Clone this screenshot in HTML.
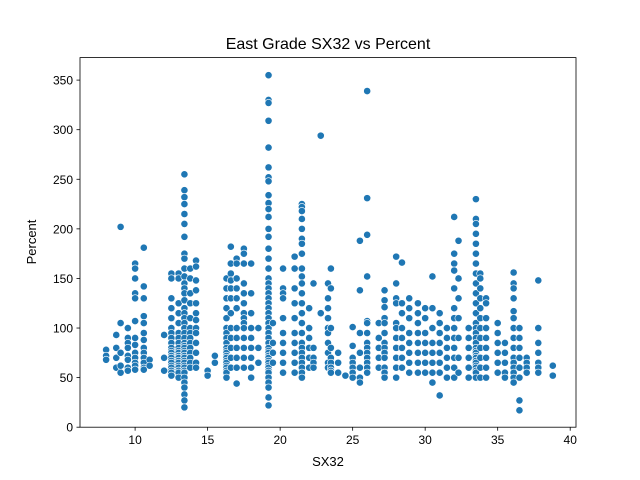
<!DOCTYPE html>
<html><head><meta charset="utf-8"><style>
body{margin:0;background:#fff;}
svg{display:block;font-family:"Liberation Sans","DejaVu Sans",sans-serif;}
</style></head><body>
<svg id="chart" width="640" height="480">
<rect width="640" height="480" fill="#fff"/>
<text x="328" y="49" font-size="16" text-anchor="middle">East Grade SX32 vs Percent</text>
<g id="marks"></g>
<g id="axes"></g>
<text x="328" y="466" font-size="13" text-anchor="middle">SX32</text>
<text transform="translate(36,242) rotate(-90)" font-size="13" text-anchor="middle">Percent</text>
</svg>
<script>
const xCats = [8,8.7,9,9.5,10,10.6,11,12,12.5,13,13.4,13.8,14.2,15,15.5,16.3,16.6,17,17.5,18,18.5,19.2,19.5,20.2,21,21.5,22,22.3,22.8,23.3,23.5,24,24.5,25,25.5,26,26.8,27.2,28,28.4,28.9,29.5,30,30.5,31,31.5,32,32.3,33,33.5,33.8,34.2,35,35.5,36.1,36.5,37,37.8,38.8];
const yVals = [
[78,72,68],
[93,80,70,60],
[202,105,75,55,62],
[100,90,85,80,72,68,60,57],
[165,160,150,135,130,107,90,83,75,70,65,62,58],
[181,142,130,112,105,95,88,80,75,70,65,60,58],
[68,62],
[93,70,57],
[155,150,130,120,110,100,95,90,85,80,77,75,72,70,67,65,62,60,57,55,52],
[155,150,125,115,105,95,90,85,80,77,75,72,70,67,65,62,60,57,55,50],
[255,239,232,225,215,205,192,175,170,160,152,145,140,135,128,120,115,110,105,100,95,90,85,82,80,77,75,72,70,67,65,62,60,57,55,50,45,40,33,27,20],
[160,150,135,125,110,100,95,90,85,80,75,70,65,60],
[168,162,148,138,125,115,108,100,95,85,75,65,60],
[57,52],
[72,65],
[150,140,130,120,110,100,95,90,85,80,77,75,72,70,67,65,62,60,57,55,50],
[182,165,155,148,140,130,115,100,90,80,70,60],
[170,165,150,140,130,120,100,90,80,70,60,44],
[180,175,165,145,135,125,115,110,105,100,90,80,70,60],
[165,135,115,100,90,80,70,60,50],
[100,80,65],
[355,330,327,309,282,262,252,248,234,226,220,212,200,192,180,170,160,150,145,140,135,130,125,120,115,110,105,100,95,90,85,80,77,75,72,70,67,65,62,60,57,55,50,45,40,30,22],
[105,85,75,65],
[160,140,135,130,110,95,85,75,65,55],
[172,160,140,125,110,95,85,75,65,55],
[225,222,218,210,200,190,185,175,160,152,145,135,125,115,105,95,85,80,75,70,65,60,55,50],
[120,100,90,80,70,60],
[145,80,70,65,60],
[294,115],
[145,130,120,110,100,95,85,75,65,60],
[160,140,100,80,70,65,60,57,55],
[75,65,55],
[52],
[101,82,70,65,60,55,50],
[188,138,95,75,60,50,45],
[339,231,194,152,107,105,95,85,80,75,70,65,60,55],
[105,90,80,70,60],
[138,128,121,110,105,95,85,80,75,70,60,55,50],
[172,145,130,125,105,100,90,80,70,60,50],
[166,125,115,100,90,80,70,60],
[130,120,110,95,85,75,65,55],
[125,115,105,95,85,75,65,55],
[110,120,95,85,75,65,55],
[152,120,100,85,75,65,55,45],
[115,105,95,85,75,65,55,32],
[100,90,80,70,60,50],
[212,175,165,158,140,120,110,100,90,80,70,60,50],
[188,150,130,110,90,70,55],
[100,90,80,70,60,50],
[230,210,205,195,185,175,165,155,145,135,125,115,105,100,95,90,85,80,77,75,72,70,67,65,62,60,57,55,50],
[155,150,140,130,120,110,100,90,80,70,60,50],
[130,125,110,100,90,80,70,60,50],
[105,95,85,75,65,55],
[85,75,65,55,50],
[156,145,140,130,117,110,100,90,80,70,65,60,55,50,45],
[100,90,80,70,60,50,27,17],
[70,65,60,55],
[148,100,85,75,65,60,55],
[62,52]
];
const xTicks = [10,15,20,25,30,35,40];
const yTicks = [0,50,100,150,200,250,300,350];
const L=80,R=576,T=57.6,B=427.2;
const xMin=6.2,xMax=40.4,yMin=0,yMax=372.7;
const sx=v=>L+(v-xMin)/(xMax-xMin)*(R-L);
const sy=v=>B-(v-yMin)/(yMax-yMin)*(B-T);
const NS="http://www.w3.org/2000/svg";
const marks=document.getElementById('marks');
xCats.forEach((x,i)=>{
  yVals[i].forEach(y=>{
    const c=document.createElementNS(NS,'circle');
    c.setAttribute('cx',sx(x));c.setAttribute('cy',sy(y));c.setAttribute('r',3.6);
    c.setAttribute('fill','#1f77b4');c.setAttribute('stroke','#fff');c.setAttribute('stroke-width',0.6);
    
    
    marks.appendChild(c);
  });
});
const axes=document.getElementById('axes');
const fr=document.createElementNS(NS,'rect');
fr.setAttribute('x',L);fr.setAttribute('y',T);fr.setAttribute('width',R-L);fr.setAttribute('height',B-T);
fr.setAttribute('fill','none');fr.setAttribute('stroke','#000');fr.setAttribute('stroke-width',0.8);


axes.appendChild(fr);
xTicks.forEach(t=>{
  const l=document.createElementNS(NS,'line');
  l.setAttribute('x1',sx(t));l.setAttribute('x2',sx(t));l.setAttribute('y1',B);l.setAttribute('y2',B+3.5);l.setAttribute('stroke','#000');l.setAttribute('stroke-width',0.8);
  
  
  axes.appendChild(l);
  const tx=document.createElementNS(NS,'text');
  tx.setAttribute('x',sx(t));tx.setAttribute('y',B+17);tx.setAttribute('font-size','12');tx.setAttribute('text-anchor','middle');
  tx.textContent=t;
  
  
  axes.appendChild(tx);
});
yTicks.forEach(t=>{
  const l=document.createElementNS(NS,'line');
  l.setAttribute('x1',L-3.5);l.setAttribute('x2',L);l.setAttribute('y1',sy(t));l.setAttribute('y2',sy(t));l.setAttribute('stroke','#000');l.setAttribute('stroke-width',0.8);
  
  
  axes.appendChild(l);
  const tx=document.createElementNS(NS,'text');
  tx.setAttribute('x',L-7);tx.setAttribute('y',sy(t)+4.5);tx.setAttribute('font-size','12');tx.setAttribute('text-anchor','end');
  tx.textContent=t;
  
  
  axes.appendChild(tx);
});
</script>
</body></html>
